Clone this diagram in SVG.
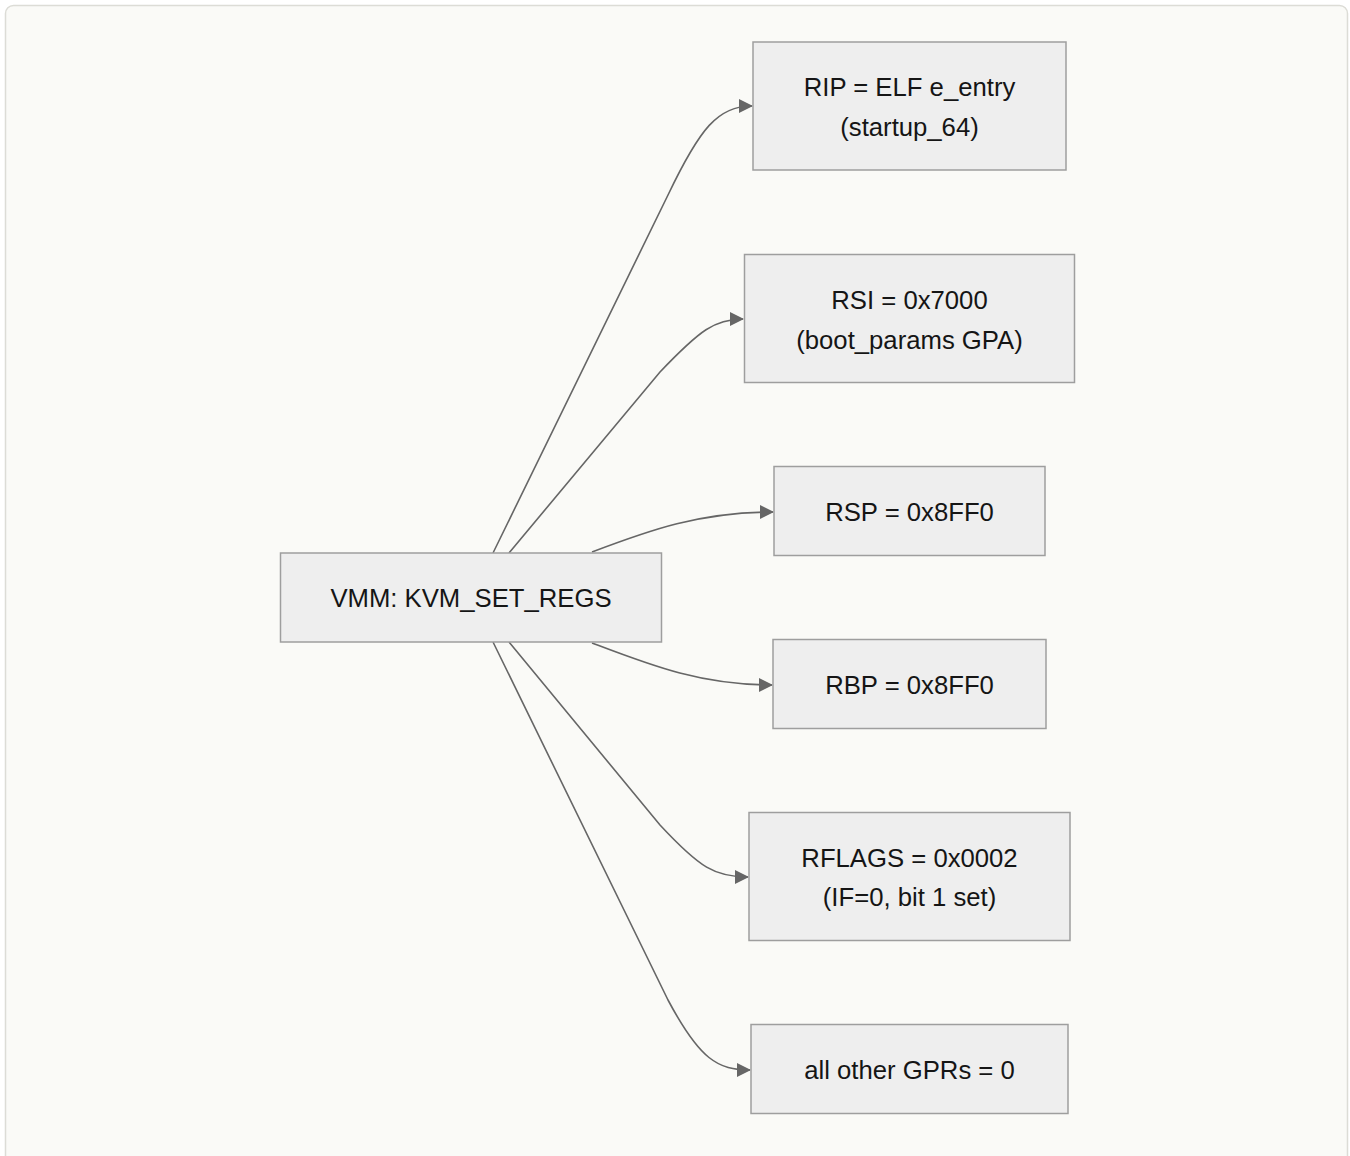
<svg xmlns="http://www.w3.org/2000/svg" width="1350" height="1156" viewBox="0 0 1350 1156">
<defs>
<style>
.bg{fill:#fafaf7;stroke:#dcdcd6;stroke-width:1.5}
.node rect{fill:#eeeeee;stroke:#9e9e9e;stroke-width:1.5}
.node text{font-family:"Liberation Sans",Arial,sans-serif;font-size:25.7px;fill:#151515;text-anchor:middle}
.edge{fill:none;stroke:#666666;stroke-width:1.6;marker-end:url(#arr)}
</style>
<marker id="arr" viewBox="0 0 14 14" refX="13" refY="7" markerWidth="14" markerHeight="14" markerUnits="userSpaceOnUse" orient="auto">
<path d="M0,0 L14,7 L0,14 Z" fill="#666666"/>
</marker>
</defs>
<rect class="bg" x="5.5" y="5.5" width="1342" height="1170" rx="8"/>
<g id="connectors">
<path class="edge" d="M493,553 L668,195 C700,128 718,106 752,106"/>
<path class="edge" d="M509,553 L660,372 C700,330 715,319 743,319"/>
<path class="edge" d="M592,552 C650,530 700,512 773,512"/>
<path class="edge" d="M592,643 C650,665 700,685 772,685"/>
<path class="edge" d="M509,642 L660,825 C700,868 715,877 748,877"/>
<path class="edge" d="M493,642 L668,1000 C700,1060 718,1070 750,1070"/>
</g>
<g id="vmm" class="node">
<rect x="280.5" y="553" width="381" height="89"/>
<text x="471" y="607">VMM: KVM_SET_REGS</text>
</g>
<g id="rip" class="node">
<rect x="753" y="42" width="313" height="128"/>
<text x="909.5" y="96">RIP = ELF e_entry</text>
<text x="909.5" y="136">(startup_64)</text>
</g>
<g id="rsi" class="node">
<rect x="744.5" y="254.5" width="330" height="128"/>
<text x="909.5" y="309">RSI = 0x7000</text>
<text x="909.5" y="349">(boot_params GPA)</text>
</g>
<g id="rsp" class="node">
<rect x="774" y="466.5" width="271" height="89"/>
<text x="909.5" y="521">RSP = 0x8FF0</text>
</g>
<g id="rbp" class="node">
<rect x="773" y="639.5" width="273" height="89"/>
<text x="909.5" y="694">RBP = 0x8FF0</text>
</g>
<g id="rflags" class="node">
<rect x="749" y="812.5" width="321" height="128"/>
<text x="909.5" y="867">RFLAGS = 0x0002</text>
<text x="909.5" y="906">(IF=0, bit 1 set)</text>
</g>
<g id="gprs" class="node">
<rect x="751" y="1024.5" width="317" height="89"/>
<text x="909.5" y="1079">all other GPRs = 0</text>
</g>
</svg>
